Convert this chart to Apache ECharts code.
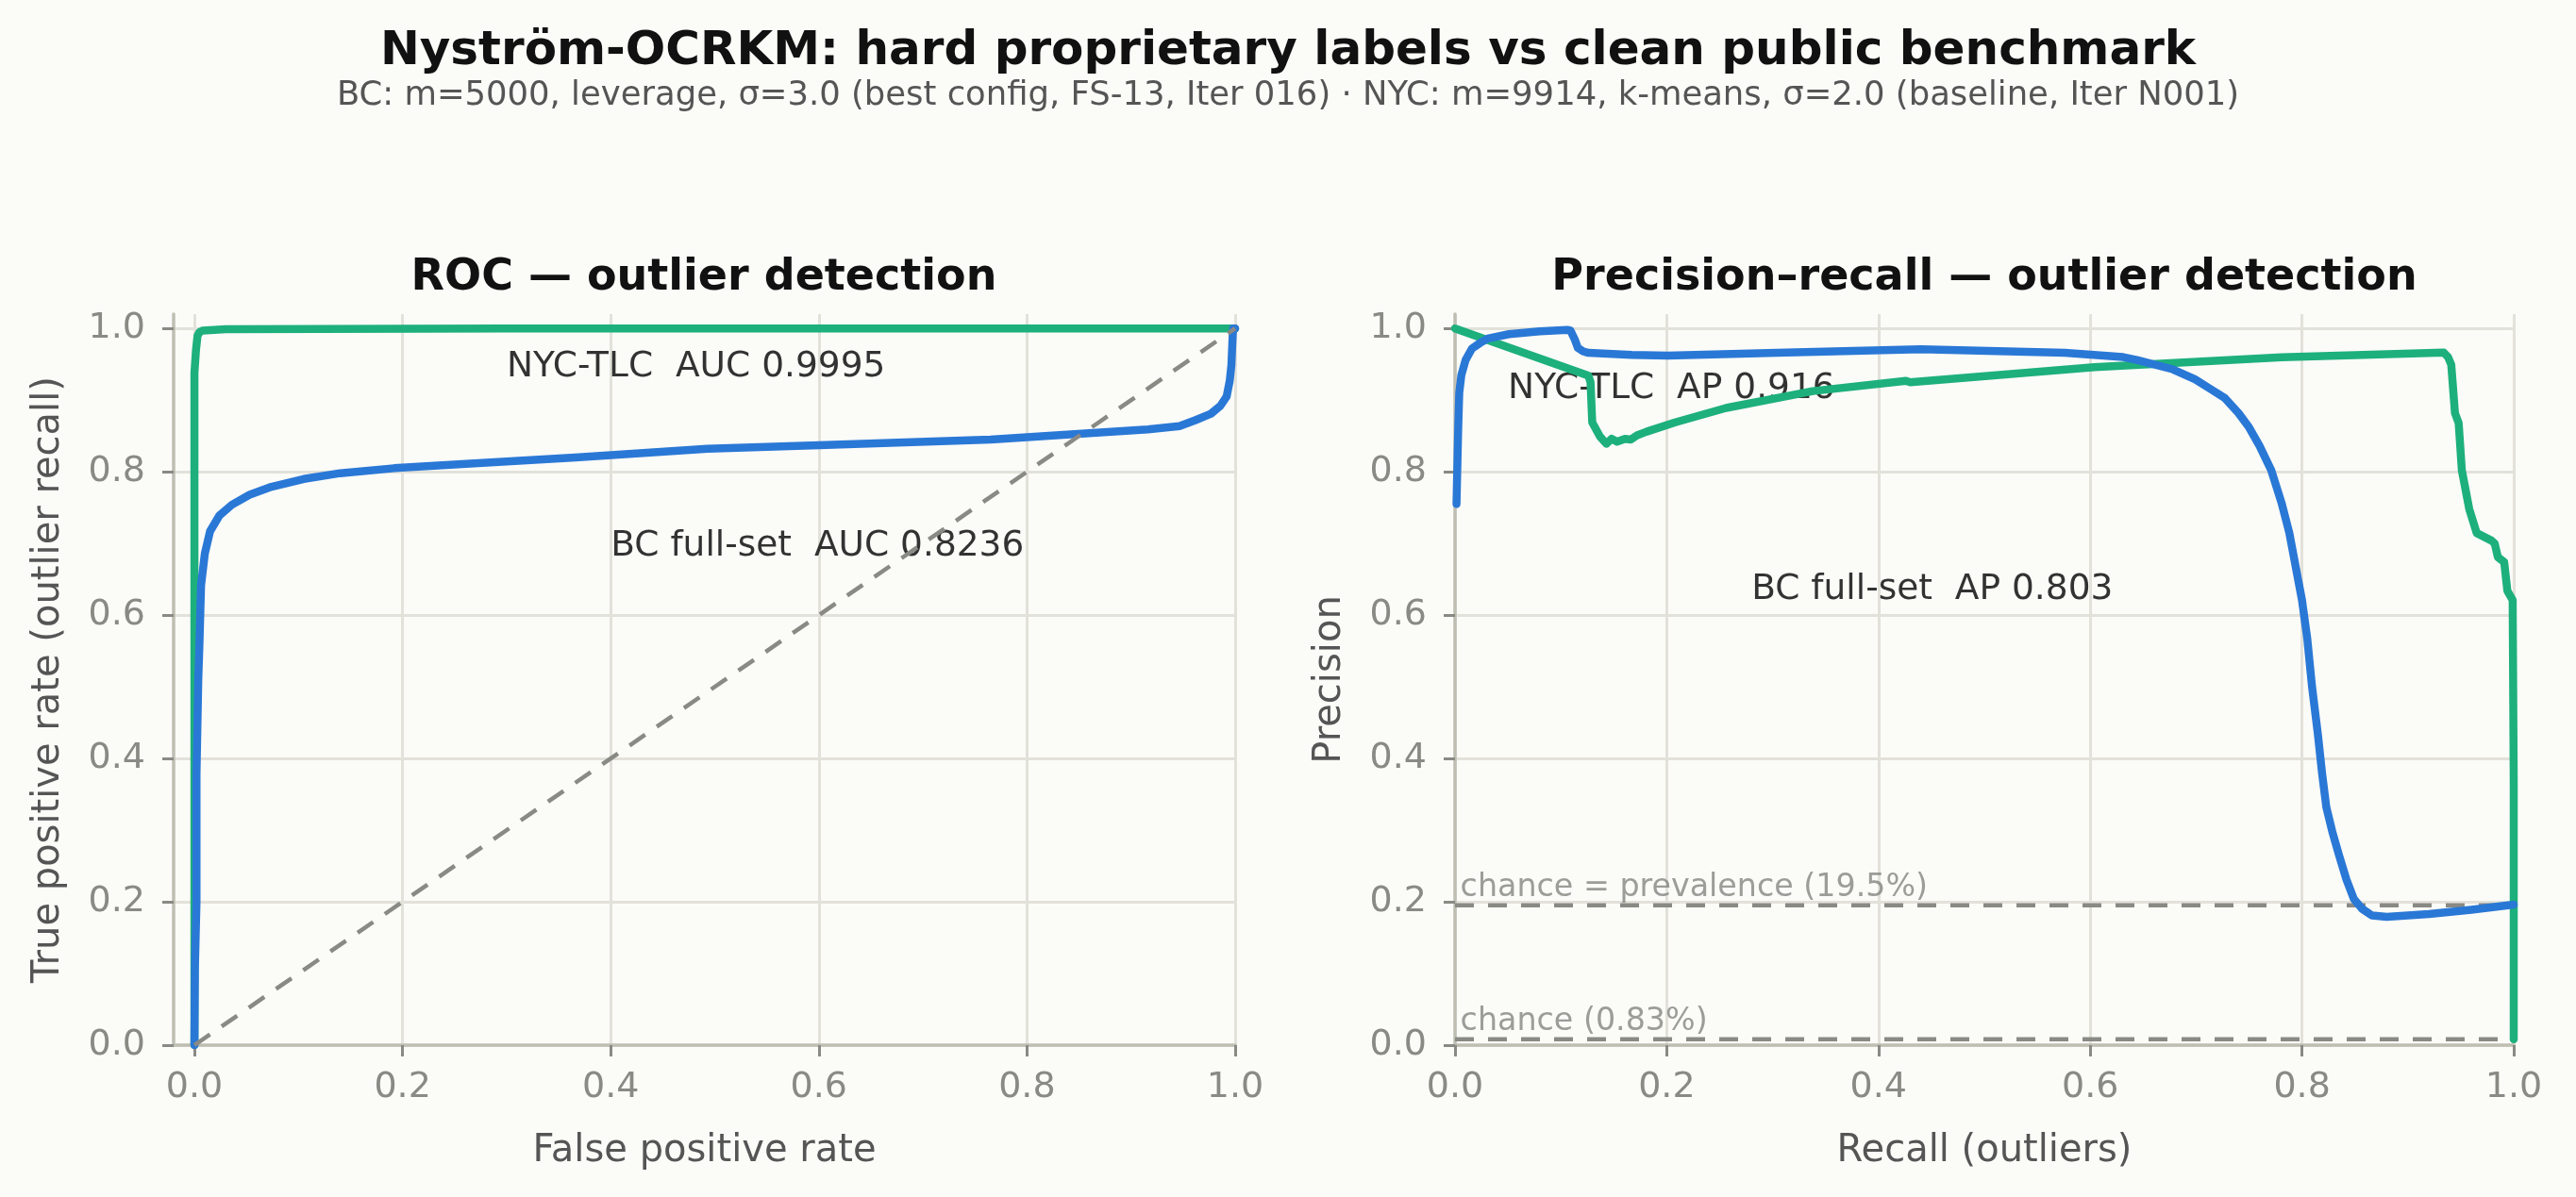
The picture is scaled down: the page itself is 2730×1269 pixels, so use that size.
<!DOCTYPE html>
<html>
<head>
<meta charset="utf-8">
<script src="https://cdn.jsdelivr.net/npm/echarts@6/dist/echarts.min.js"></script>
<style>
  html, body { margin: 0; padding: 0; background: #fbfbf8; }
  #main { width: 2730px; height: 1269px; }
</style>
</head>
<body>
<div id="main"></div>
<script>
// ---- data ----
const tickValues = [0, 0.2, 0.4, 0.6, 0.8, 1.0];

// ROC: [false positive rate, true positive rate]
const rocNyc = [
  [0, 0], [0, 0.938], [0.0015, 0.97], [0.003, 0.99], [0.005, 0.995], [0.008, 0.997],
  [0.03, 0.999], [0.3, 1.0], [1, 1]
];
const rocBc = [
  [0, 0], [0.0005, 0.11], [0.002, 0.2], [0.002, 0.379], [0.0037, 0.51], [0.0047, 0.554],
  [0.0064, 0.642], [0.010, 0.686], [0.015, 0.717], [0.024, 0.739], [0.036, 0.754],
  [0.053, 0.768], [0.074, 0.779], [0.105, 0.790], [0.140, 0.798], [0.192, 0.805],
  [0.261, 0.811], [0.366, 0.820], [0.493, 0.832], [0.6, 0.837], [0.765, 0.845],
  [0.856, 0.8535], [0.916, 0.859], [0.9465, 0.8636], [0.9617, 0.872], [0.9767, 0.881],
  [0.9858, 0.892], [0.9918, 0.905], [0.9948, 0.927], [0.9964, 0.949], [0.9973, 0.98],
  [0.998, 1.0], [1, 1]
];
const rocDiagonal = [[0, 0], [1, 1]];

// Precision-recall: [recall, precision]
const prNyc = [
  [0, 1.0], [0.126, 0.934], [0.128, 0.925], [0.1296, 0.869], [0.137, 0.849],
  [0.143, 0.839], [0.148, 0.846], [0.153, 0.842], [0.1605, 0.846], [0.166, 0.845],
  [0.172, 0.851], [0.181, 0.856], [0.208, 0.869], [0.256, 0.889], [0.338, 0.9126],
  [0.426, 0.927], [0.43, 0.925], [0.604, 0.946], [0.781, 0.9597], [0.934, 0.9663],
  [0.938, 0.96], [0.941, 0.9495], [0.9445, 0.882], [0.948, 0.868], [0.951, 0.802],
  [0.958, 0.748], [0.965, 0.7145], [0.979, 0.704], [0.982, 0.7], [0.985, 0.681],
  [0.991, 0.674], [0.994, 0.634], [0.999, 0.621], [1.0, 0.367], [1.0, 0.0083]
];
const prBc = [
  [0.0014, 0.755], [0.003, 0.86], [0.004, 0.91], [0.006, 0.935], [0.01, 0.956],
  [0.016, 0.972], [0.024, 0.980], [0.031, 0.986], [0.051, 0.992], [0.08, 0.996],
  [0.106, 0.998], [0.109, 0.997], [0.113, 0.985], [0.116, 0.973], [0.121, 0.968],
  [0.126, 0.966], [0.167, 0.963], [0.201, 0.962], [0.304, 0.966], [0.44, 0.971],
  [0.576, 0.966], [0.631, 0.960], [0.644, 0.956], [0.678, 0.943], [0.699, 0.929],
  [0.713, 0.916], [0.727, 0.903], [0.74, 0.882], [0.750, 0.862], [0.76, 0.836],
  [0.771, 0.802], [0.781, 0.755], [0.788, 0.715], [0.794, 0.668], [0.800, 0.621],
  [0.805, 0.567], [0.8095, 0.500], [0.815, 0.434], [0.819, 0.379], [0.823, 0.332],
  [0.8286, 0.298], [0.835, 0.265], [0.842, 0.231], [0.849, 0.204], [0.857, 0.190],
  [0.866, 0.181], [0.880, 0.179], [0.92, 0.183], [0.96, 0.189], [1.0, 0.196]
];
const prevalenceBc = 0.195;
const prevalenceNyc = 0.0083;

// text annotations: [x, y, label]
const rocNotes = [
  [0.30, 0.93, 'NYC-TLC  AUC 0.9995'],
  [0.40, 0.68, 'BC full-set  AUC 0.8236']
];
const prNotes = [
  [0.05, 0.90, 'NYC-TLC  AP 0.916'],
  [0.28, 0.62, 'BC full-set  AP 0.803']
];
const chanceNotes = [
  [0.005, prevalenceBc + 0.012, 'chance = prevalence (19.5%)'],
  [0.005, prevalenceNyc + 0.012, 'chance (0.83%)']
];

// ---- styling ----
const FONT = 'DejaVu Sans';
const GREEN = '#1db07c';
const BLUE = '#2a78d6';
const GREY_DASH = '#8a8a85';

function xAxis(gridIndex, min, name) {
  return {
    type: 'value', gridIndex: gridIndex, min: min, max: 1,
    name: name, nameLocation: 'middle', nameGap: 93,
    nameTextStyle: { color: '#555555', fontSize: 40, fontFamily: FONT },
    axisLine: { show: true, onZero: false, lineStyle: { color: '#bfbeb3', width: 3.5 } },
    axisTick: { show: true, length: 12, customValues: tickValues,
                lineStyle: { color: '#8a8a85', width: 3 } },
    axisLabel: { color: '#8a8a85', fontSize: 38, fontFamily: FONT, margin: 26,
                 customValues: tickValues, formatter: v => v.toFixed(1) },
    splitLine: { show: true, lineStyle: { color: '#e2e1da', width: 3 } }
  };
}
function yAxis(gridIndex, name) {
  return {
    type: 'value', gridIndex: gridIndex, min: 0, max: 1.02,
    name: name, nameLocation: 'middle', nameGap: 112,
    nameTextStyle: { color: '#555555', fontSize: 40, fontFamily: FONT },
    axisLine: { show: true, onZero: false, lineStyle: { color: '#bfbeb3', width: 3.5 } },
    axisTick: { show: true, length: 12, customValues: tickValues,
                lineStyle: { color: '#8a8a85', width: 3 } },
    axisLabel: { color: '#8a8a85', fontSize: 38, fontFamily: FONT, margin: 30,
                 customValues: tickValues, formatter: v => v.toFixed(1) },
    splitLine: { show: true, lineStyle: { color: '#e2e1da', width: 3 } }
  };
}
function curve(idx, data, color) {
  return {
    type: 'line', xAxisIndex: idx, yAxisIndex: idx, data: data,
    showSymbol: false, symbol: 'none', silent: true,
    lineStyle: { color: color, width: 8.5, cap: 'round', join: 'round' }
  };
}
function dashed(idx, data) {
  return {
    type: 'line', xAxisIndex: idx, yAxisIndex: idx, data: data,
    showSymbol: false, symbol: 'none', silent: true,
    lineStyle: { color: GREY_DASH, width: 4.5, type: [20, 15] }
  };
}
function notes(idx, list, size, color) {
  return {
    type: 'scatter', xAxisIndex: idx, yAxisIndex: idx, symbolSize: 0, silent: true,
    data: list.map(n => ({ value: [n[0], n[1]], name: n[2] })),
    label: { show: true, position: [0, 0], align: 'left', verticalAlign: 'bottom',
             offset: [0, 7], formatter: p => p.name, textBorderWidth: 0,
             color: color, fontSize: size, fontFamily: FONT }
  };
}

const chart = echarts.init(document.getElementById('main'), null,
  { renderer: 'canvas', width: 2730, height: 1269 });

chart.setOption({
  backgroundColor: '#fbfbf8',
  animation: false,
  title: [
    { text: 'Nyström-OCRKM: hard proprietary labels vs clean public benchmark',
      left: 1365, textAlign: 'center', top: 30, padding: 0,
      textStyle: { fontSize: 50, fontWeight: 'bold', color: '#111111', fontFamily: FONT } },
    { text: 'BC: m=5000, leverage, σ=3.0 (best config, FS-13, Iter 016) · NYC: m=9914, k-means, σ=2.0 (baseline, Iter N001)',
      left: 1365, textAlign: 'center', top: 84, padding: 0,
      textStyle: { fontSize: 35.4, fontWeight: 'normal', color: '#555555', fontFamily: FONT } },
    { text: 'ROC — outlier detection',
      left: 746, textAlign: 'center', top: 272, padding: 0,
      textStyle: { fontSize: 46, fontWeight: 'bold', color: '#111111', fontFamily: FONT } },
    { text: 'Precision–recall — outlier detection',
      left: 2103, textAlign: 'center', top: 272, padding: 0,
      textStyle: { fontSize: 46, fontWeight: 'bold', color: '#111111', fontFamily: FONT } }
  ],
  grid: [
    { left: 184, top: 333, width: 1125, height: 775 },
    { left: 1542, top: 333, width: 1122, height: 775 }
  ],
  xAxis: [
    xAxis(0, -0.02, 'False positive rate'),
    xAxis(1, 0, 'Recall (outliers)')
  ],
  yAxis: [
    yAxis(0, 'True positive rate (outlier recall)'),
    yAxis(1, 'Precision')
  ],
  series: [
    curve(0, rocNyc, GREEN),
    curve(0, rocBc, BLUE),
    dashed(0, rocDiagonal),
    dashed(1, [[0, prevalenceBc], [1, prevalenceBc]]),
    dashed(1, [[0, prevalenceNyc], [1, prevalenceNyc]]),
    curve(1, prNyc, GREEN),
    curve(1, prBc, BLUE),
    notes(0, rocNotes, 37.5, '#000000'),
    notes(1, prNotes, 37.5, '#000000'),
    notes(1, chanceNotes, 33.3, '#85857f')
  ]
});
</script>
</body>
</html>
